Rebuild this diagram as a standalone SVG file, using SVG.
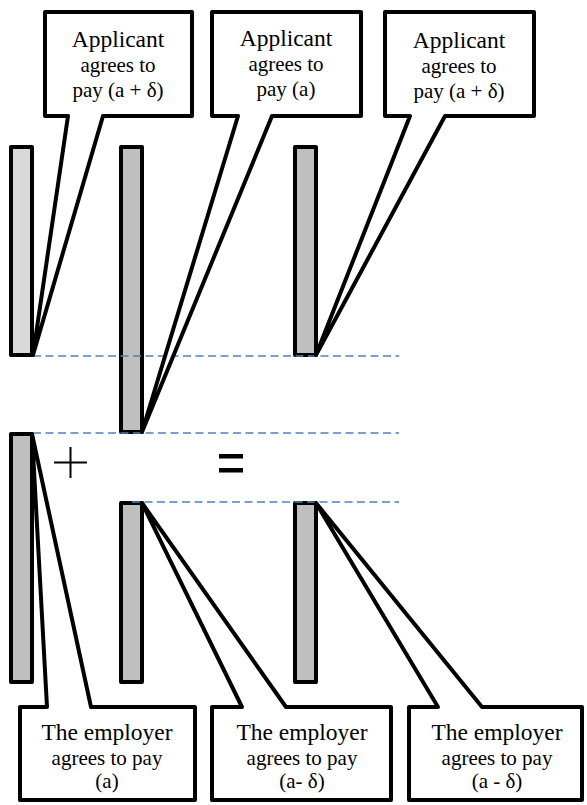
<svg xmlns="http://www.w3.org/2000/svg" width="587" height="805" viewBox="0 0 587 805">
<style>
.bar{stroke:#000;stroke-width:4;stroke-linejoin:round}
.light{fill:#d9d9d9}
.mid{fill:#bfbfbf}
.call{fill:#fff;stroke:#000;stroke-width:4;stroke-linejoin:round}
.dash{stroke:#4f81bd;stroke-width:1.6;stroke-dasharray:8,4.5;fill:none}
.t{fill:#000;text-anchor:middle;font-family:"Liberation Serif",Tinos,"Times New Roman",Times,"Noto Serif","DejaVu Serif",serif}
.big{font-size:23.5px}
.sm{font-size:21px}
.alt{font-family:"DejaVu Serif",serif}
</style>
<rect width="587" height="805" fill="#fff"/>
<g id="bar1"><rect class="bar light" x="11" y="147" width="21" height="208"/></g>
<g id="bar2"><rect class="bar mid" x="121" y="147" width="21" height="285"/></g>
<g id="bar3"><rect class="bar mid" x="295" y="147" width="21" height="208"/></g>
<g id="bar4"><rect class="bar mid" x="11" y="434" width="21" height="248"/></g>
<g id="bar5"><rect class="bar mid" x="121" y="503" width="21" height="179"/></g>
<g id="bar6"><rect class="bar mid" x="295" y="503" width="21" height="179"/></g>
<g id="connectors">
<line class="dash" x1="33" y1="356" x2="399" y2="356"/>
<line class="dash" x1="33" y1="433" x2="399" y2="433"/>
<line class="dash" x1="132" y1="502" x2="399" y2="502"/>
</g>
<g id="callout1">
<path class="call" d="M45,12 H192 V116 H103 L33,355 L68,116 H45 Z"/>
<text class="t big" x="118" y="47">Applicant</text>
<text class="t sm" x="118" y="72">agrees to</text>
<text class="t sm" x="118" y="97">pay (a + δ)</text>
</g>
<g id="callout2">
<path class="call" d="M212,12 H361 V116 H272 L142,432 L238,116 H212 Z"/>
<text class="t big" x="286" y="46">Applicant</text>
<text class="t sm" x="286" y="71">agrees to</text>
<text class="t sm" x="286" y="96">pay (a)</text>
</g>
<g id="callout3">
<path class="call" d="M385,12 H534 V116 H445 L316,355 L410,116 H385 Z"/>
<text class="t big" x="459" y="48">Applicant</text>
<text class="t sm" x="459" y="73">agrees to</text>
<text class="t sm" x="459" y="98">pay (a + δ)</text>
</g>
<g id="callout4">
<path class="call" d="M20,707 H47 L32,434 L91,707 H195 V800 H20 Z"/>
<text class="t big" x="107" y="740">The employer</text>
<text class="t sm" x="107" y="765">agrees to pay</text>
<text class="t sm" x="107" y="788">(a)</text>
</g>
<g id="callout5">
<path class="call" d="M212,707 H242 L142,503 L286,707 H391 V800 H212 Z"/>
<text class="t big" x="302" y="740">The employer</text>
<text class="t sm" x="302" y="765">agrees to pay</text>
<text class="t sm" x="302" y="788">(a- δ)</text>
</g>
<g id="callout6">
<path class="call" d="M409,707 H438 L316,503 L482,707 H582 V800 H409 Z"/>
<text class="t big" x="497" y="740">The employer</text>
<text class="t sm" x="497" y="765">agrees to pay</text>
<text class="t sm" x="497" y="788">(a - δ)</text>
</g>
<g id="plus" stroke="#000" stroke-width="2">
<line x1="54" y1="462.5" x2="87" y2="462.5"/>
<line x1="70.5" y1="447" x2="70.5" y2="478"/>
</g>
<g id="equals" fill="#000">
<rect x="219" y="454" width="24" height="4.5"/>
<rect x="219" y="468" width="24" height="4.5"/>
</g>
</svg>
